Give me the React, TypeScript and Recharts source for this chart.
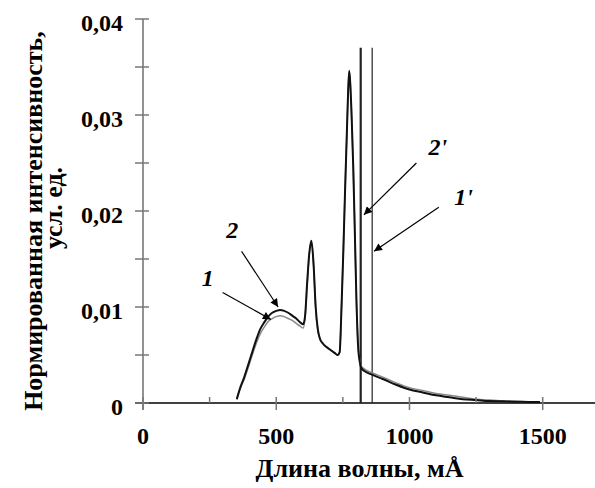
import React from "react";
import { LineChart, Line, XAxis, YAxis, ReferenceLine, ReferenceDot } from "recharts";

// wavelength, mÅ
const wavelengths = [
  352, 365, 380, 395, 410, 425, 440, 455, 470, 485, 500, 515, 530, 545, 560, 575, 590, 601,
  608, 616, 624, 632, 640, 648, 656, 664, 675, 690, 705, 720, 730, 738, 745, 752, 759, 765,
  770, 774, 778, 783, 789, 795, 801, 807, 814, 820, 840, 864, 900, 950, 1000, 1050, 1100,
  1150, 1200, 1250, 1300, 1350, 1400, 1450, 1490,
];

// curve 1 (thin, grey)
const curve1 = [
  0.0004, 0.0015, 0.0025, 0.0037, 0.005, 0.0062, 0.0072, 0.0079, 0.0085, 0.0088, 0.009, 0.0091,
  0.009, 0.0088, 0.0086, 0.0083, 0.008, 0.0078, 0.0088, 0.0123, 0.0155, 0.0168, 0.0144, 0.0099,
  0.0076, 0.0067, 0.0062, 0.0058, 0.0055, 0.0052, 0.005, 0.0053, 0.01, 0.016, 0.0228, 0.0281,
  0.0326, 0.0345, 0.0332, 0.0298, 0.0246, 0.0177, 0.0107, 0.0062, 0.0044, 0.0038, 0.0034,
  0.0031, 0.0027, 0.0021, 0.0016, 0.0013, 0.001, 0.0008, 0.0006, 0.0004, 0.0003, 0.00022,
  0.00017, 0.00012, 0.0001,
];

// curve 2 (thick, black)
const curve2 = [
  0.0004, 0.0016, 0.0027, 0.004, 0.0053, 0.0066, 0.0077, 0.0084, 0.009, 0.0094, 0.0096, 0.0097,
  0.0096, 0.0094, 0.0091, 0.0088, 0.0084, 0.0082, 0.009, 0.0125, 0.0156, 0.0169, 0.0145, 0.01,
  0.0077, 0.0067, 0.0062, 0.0058, 0.0055, 0.0052, 0.005, 0.0053, 0.01, 0.016, 0.0228, 0.0281,
  0.0326, 0.0346, 0.0332, 0.0298, 0.0246, 0.0177, 0.0107, 0.006, 0.0042, 0.0036, 0.0032,
  0.0029, 0.0025, 0.0019, 0.0014, 0.0011, 0.0008, 0.0006, 0.0004, 0.0003, 0.0002, 0.00017,
  0.00014, 0.00011, 0.0001,
];

const xTicks = [0, 250, 500, 750, 1000, 1250, 1500];
const yTicks = [0, 0.005, 0.01, 0.015, 0.02, 0.025, 0.03, 0.035, 0.04];

// edges 2' and 1'
const edgeX = [817, 860];
const edgeTop = 0.037;

const labelText = ["2'", "1'", "2", "1"];
const labelX = [1106, 1203, 335, 243];
const labelY = [0.0267, 0.0215, 0.018, 0.013];

const arrowFromX = [1026, 1110, 370, 299];
const arrowFromY = [0.025, 0.0204, 0.0158, 0.0115];
const arrowToX = [829, 867, 507, 480];
const arrowToY = [0.0196, 0.0158, 0.01, 0.0087];

const data = wavelengths.map((w, i) => ({ w, c1: curve1[i], c2: curve2[i] }));

const serif = '"Liberation Serif", "Times New Roman", "DejaVu Serif", serif';
const txt = (size: number, italic = false): React.CSSProperties => ({
  fontFamily: serif,
  fontWeight: 700,
  fontSize: size,
  fontStyle: italic ? "italic" : "normal",
  fill: "#000",
});

const fmt = (v: number) => (v === 0 ? "0" : v.toFixed(2).replace(".", ","));

const YTick = (props: any) => {
  const { x, y, payload } = props;
  const v = payload.value;
  const labeled = Math.abs(v * 100 - Math.round(v * 100)) < 1e-6;
  return (
    <g>
      <line x1={x - 8} x2={x + 6} y1={y} y2={y} stroke="#777" strokeWidth={1.5} />
      {labeled && (
        <text x={x - 20} y={y + 12} textAnchor="end" style={txt(24)}>
          {fmt(v)}
        </text>
      )}
    </g>
  );
};

const XTick = (props: any) => {
  const { x, y, payload } = props;
  const v = payload.value;
  const major = v % 500 === 0;
  return (
    <g>
      <line x1={x} x2={x} y1={y - 6} y2={major ? y + 7 : y} stroke="#777" strokeWidth={1.5} />
      {major && (
        <text x={x} y={y + 41} textAnchor="middle" style={txt(24)}>
          {v}
        </text>
      )}
    </g>
  );
};

const XTitle = (props: any) => {
  const vb = props.viewBox;
  return (
    <text x={vb.x + vb.width / 2 - 10} y={vb.y + 74} textAnchor="middle" style={txt(26)}>
      Длина волны, мÅ
    </text>
  );
};

const YTitle = () => (
  <g>
    <text transform="translate(42, 221) rotate(-90)" textAnchor="middle" style={txt(26)}>
      Нормированная интенсивность,
    </text>
    <text transform="translate(62, 208) rotate(-90)" textAnchor="middle" style={txt(26)}>
      усл. ед.
    </text>
  </g>
);

const ArrowShape = (p: any) => (
  <line x1={p.x1} y1={p.y1} x2={p.x2} y2={p.y2} stroke="#000" strokeWidth={1.2} markerEnd="url(#arrowHead)" />
);

const App: React.FC = () => {
  return (
    <div style={{ position: "absolute", left: 0, top: 0, width: 595, height: 488, overflow: "hidden", background: "#fff" }}>
      <svg width={0} height={0} style={{ position: "absolute" }}>
        <defs>
          <marker id="arrowHead" viewBox="0 0 10 10" refX={10} refY={5} markerUnits="userSpaceOnUse" markerWidth={11} markerHeight={8} orient="auto">
            <path d="M0,0 L10,5 L0,10 z" fill="#000" />
          </marker>
        </defs>
      </svg>
      <LineChart width={596} height={488} data={data} margin={{ top: 19, right: 0, bottom: 0, left: 0 }}>
        <XAxis
          dataKey="w"
          type="number"
          domain={[0, 1700]}
          ticks={xTicks}
          allowDataOverflow
          height={85}
          axisLine={false}
          tickLine={false}
          tickSize={0}
          tickMargin={0}
          tick={<XTick />}
          label={<XTitle />}
        />
        <YAxis
          type="number"
          domain={[0, 0.04]}
          ticks={yTicks}
          allowDataOverflow
          width={143}
          axisLine={false}
          tickLine={false}
          tickSize={0}
          tickMargin={0}
          tick={<YTick />}
          label={<YTitle />}
        />
        <ReferenceLine
          segment={[{ x: -30, y: 0 }, { x: 1700, y: 0 }]}
          ifOverflow="visible"
          stroke="#000"
          strokeWidth={1.6}
        />
        <ReferenceLine
          segment={[{ x: 0, y: -0.0007 }, { x: 0, y: 0.04 }]}
          ifOverflow="visible"
          stroke="#777"
          strokeWidth={1.6}
        />
        {edgeX.map((x, i) => (
          <ReferenceLine
            key={"e" + i}
            segment={[{ x, y: 0 }, { x, y: edgeTop }]}
            stroke="#222"
            strokeWidth={i === 0 ? 2.2 : 1.2}
          />
        ))}
        <Line type="monotone" dataKey="c1" stroke="#888" strokeWidth={1.5} dot={false} activeDot={false} isAnimationActive={false} />
        <Line type="monotone" dataKey="c2" stroke="#111" strokeWidth={2} dot={false} activeDot={false} isAnimationActive={false} />
        {arrowFromX.map((fx, i) => (
          <ReferenceLine
            key={"a" + i}
            segment={[{ x: fx, y: arrowFromY[i] }, { x: arrowToX[i], y: arrowToY[i] }]}
            shape={ArrowShape}
          />
        ))}
        {labelText.map((t, i) => (
          <ReferenceDot
            key={"l" + i}
            x={labelX[i]}
            y={labelY[i]}
            r={0}
            shape={(p: any) => (
              <text x={p.cx} y={p.cy} textAnchor="middle" dominantBaseline="central" style={txt(24, true)}>
                {t}
              </text>
            )}
          />
        ))}
      </LineChart>
    </div>
  );
};

export default App;
